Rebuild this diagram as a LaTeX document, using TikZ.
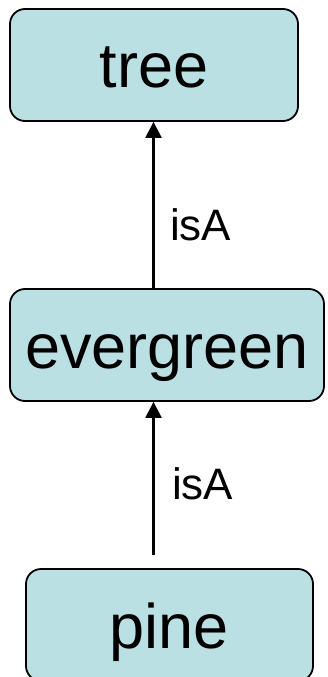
\documentclass[tikz,border=0pt]{standalone}
\usepackage{fontspec}
\setmainfont{Liberation Sans}
\usetikzlibrary{arrows.meta}
\definecolor{boxfill}{RGB}{187,224,227}
\tikzset{
  concept/.style={draw=black, line width=1.8pt, fill=boxfill, rounded corners=15pt,
    minimum height=112pt, inner sep=0pt, font=\fontsize{63}{70}\selectfont,
    text height=46pt, text depth=0pt},
  isa/.style={-{Triangle[length=16pt,width=16pt]}, line width=2.4pt},
  lbl/.style={anchor=base west, inner sep=0pt, font=\fontsize{44}{50}\selectfont}
}
\begin{document}
\begin{tikzpicture}[x=1pt,y=-1pt]
\useasboundingbox (0,0) rectangle (327,677);
\clip (0,0) rectangle (327,677);
\node[concept, minimum width=288pt] (tree) at (154,65) {tree};
\node[concept, minimum width=314pt] (evergreen) at (167,345) {evergreen};
\node[concept, minimum width=287pt] (pine) at (169.5,625) {pine};
\coordinate (ax) at (153.5,0);
\coordinate (pstart) at (153.5,555);
\draw[isa] (evergreen.north -| ax) -- (tree.south -| ax);
\draw[isa] (pstart) -- (evergreen.south -| ax);
\node[lbl] (l1) at (170,240) {isA};
\node[lbl] (l2) at (172,499) {isA};
\end{tikzpicture}
\end{document}
